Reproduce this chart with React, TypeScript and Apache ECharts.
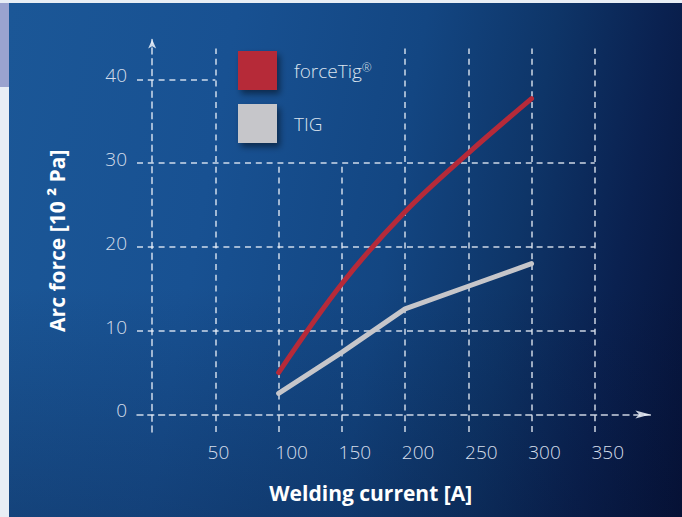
import React, { useEffect, useRef } from "react";
import * as echarts from "echarts";

// ---- data ----
const seriesNames = ["forceTig®", "TIG"];
const forceTigCurrent = [100, 150, 200, 250, 300];
const forceTigForce = [5, 15.6, 24.2, 31.2, 37.7];
const tigCurrent = [100, 150, 200, 250, 300];
const tigForce = [2.5, 7.4, 12.6, 15.3, 18];
const xTickLabels = [50, 100, 150, 200, 250, 300, 350];
const yTickLabels = [0, 10, 20, 30, 40];

export default function App() {
  const ref = useRef<HTMLDivElement>(null);

  useEffect(() => {
    if (!ref.current) return;
    const chart = echarts.init(ref.current, null, { renderer: "svg" });

    const xMin = -12;
    const xMax = 394;
    const yMin = -2.1;
    const yMax = 44.76;
    const gridTop = 43.7;
    const shortTop = 30; // region under the legend
    const gridColor = "rgba(240,245,252,0.85)";
    const dash = [6, 4.8];

    const gridSegments: any[] = [];
    xTickLabels.forEach((x) => {
      const top = x === 100 || x === 150 ? shortTop : gridTop;
      gridSegments.push({ coords: [[x, yMin], [x, top]] });
    });
    yTickLabels.forEach((y) => {
      if (y === 0) return;
      const right = y === 40 ? 50 : 350;
      gridSegments.push({ coords: [[xMin, y], [right, y]] });
    });

    const font = "'Open Sans', 'Noto Sans', sans-serif";
    const tickColor = "#d6deea";

    chart.setOption({
      animation: false,
      backgroundColor: "transparent",
      grid: {
        left: 137,
        right: 31.6,
        top: 39.5,
        bottom: 85,
        containLabel: false,
        outerBoundsMode: "none",
      },
      legend: {
        data: seriesNames,
        orient: "vertical",
        left: 238,
        top: 51,
        padding: 0,
        itemWidth: 39,
        itemHeight: 39,
        itemGap: 14,
        icon: "rect",
        itemStyle: {
          shadowBlur: 6,
          shadowOffsetX: 3,
          shadowOffsetY: 4,
          shadowColor: "rgba(0,0,0,0.45)",
        },
        formatter: (name: string) =>
          name.endsWith("®") ? `{t|${name.slice(0, -1)}}{sup|®}` : `{t|${name}}`,
        textStyle: {
          color: "#dbe3ee",
          fontSize: 19,
          fontWeight: 300,
          fontFamily: font,
          padding: [0, 0, 0, 12],
          rich: {
            t: { color: "#dbe3ee", fontSize: 19, fontWeight: 300, fontFamily: font },
            sup: {
              color: "#dbe3ee",
              fontSize: 12,
              fontFamily: font,
              verticalAlign: "top",
              padding: [0, 0, 6, 0],
            },
          },
        },
        selectedMode: false,
      },
      xAxis: {
        type: "value",
        min: xMin,
        max: xMax,
        name: "Welding current [A]",
        nameLocation: "middle",
        nameGap: 50,
        nameTextStyle: {
          color: "#ffffff",
          fontSize: 21,
          fontWeight: "bold",
          fontFamily: font,
          padding: [0, 46, 0, 0],
        },
        axisLine: {
          show: true,
          onZero: true,
          symbol: ["none", "arrow"],
          symbolSize: [6, 15],
          lineStyle: { color: gridColor, width: 1.5, type: dash },
        },
        axisTick: { show: false },
        splitLine: { show: false },
        axisLabel: {
          customValues: xTickLabels,
          margin: 10,
          color: tickColor,
          fontSize: 19,
          fontWeight: 300,
          fontFamily: font,
          formatter: (v: number) => (v === 50 ? `{s|${v}}` : `{n|${v}}`),
          rich: {
            s: { padding: [0, 0, 0, 6], color: tickColor, fontSize: 19, fontWeight: 300, fontFamily: font },
            n: { padding: [0, 0, 0, 26], color: tickColor, fontSize: 19, fontWeight: 300, fontFamily: font },
          },
        },
      },
      yAxis: {
        type: "value",
        min: yMin,
        max: yMax,
        name: "Arc force [10 ² Pa]",
        nameLocation: "middle",
        nameGap: 69.5,
        nameRotate: 90,
        nameTextStyle: {
          color: "#ffffff",
          fontSize: 21,
          fontWeight: "bold",
          fontFamily: font,
          padding: [0, 10, 0, 0],
        },
        axisLine: {
          show: true,
          onZero: true,
          symbol: ["none", "arrow"],
          symbolSize: [6, 9],
          lineStyle: { color: gridColor, width: 1.5, type: dash },
        },
        axisTick: { show: false },
        splitLine: { show: false },
        axisLabel: {
          customValues: yTickLabels,
          margin: 10,
          verticalAlign: "bottom",
          lineHeight: 8,
          color: tickColor,
          fontSize: 19,
          fontWeight: 300,
          fontFamily: font,
        },
      },
      series: [
        {
          name: "grid",
          type: "lines",
          coordinateSystem: "cartesian2d",
          polyline: false,
          silent: true,
          z: 1,
          lineStyle: { color: gridColor, width: 1.5, type: dash, opacity: 1 },
          data: gridSegments,
        },
        {
          name: seriesNames[0],
          type: "line",
          z: 3,
          smooth: 0.35,
          symbol: "none",
          itemStyle: { color: "#b62a39" },
          lineStyle: { color: "#b62a39", width: 5, cap: "round", join: "round" },
          data: forceTigCurrent.map((x, i) => [x, forceTigForce[i]]),
        },
        {
          name: seriesNames[1],
          type: "line",
          z: 3,
          symbol: "none",
          itemStyle: { color: "#c6c6ca" },
          lineStyle: { color: "#c6c6ca", width: 5, cap: "round", join: "round" },
          data: tigCurrent.map((x, i) => [x, tigForce[i]]),
        },
      ],
    });

    return () => chart.dispose();
  }, []);

  return (
    <div style={{ position: "absolute", left: 0, top: 0, width: 682, height: 517, background: "#e8eef5", overflow: "hidden" }}>
      <div
        style={{
          position: "absolute",
          left: 9,
          top: 3,
          width: 673,
          height: 514,
          background:
            "linear-gradient(100deg, #1b5797 0%, #185192 30%, #134682 55%, #0e3568 72%, #0a2150 86%, #061238 100%)",
        }}
      />
      <div
        style={{
          position: "absolute",
          left: 9,
          top: 3,
          width: 673,
          height: 514,
          background:
            "linear-gradient(180deg, rgba(0,0,0,0) 0%, rgba(0,0,0,0) 55%, rgba(5,15,45,0.25) 100%)",
        }}
      />
      <div style={{ position: "absolute", left: 0, top: 3, width: 9, height: 84, background: "#9aa3cf" }} />
      <div ref={ref} style={{ position: "absolute", left: 0, top: 0, width: 682, height: 517 }} />
    </div>
  );
}
